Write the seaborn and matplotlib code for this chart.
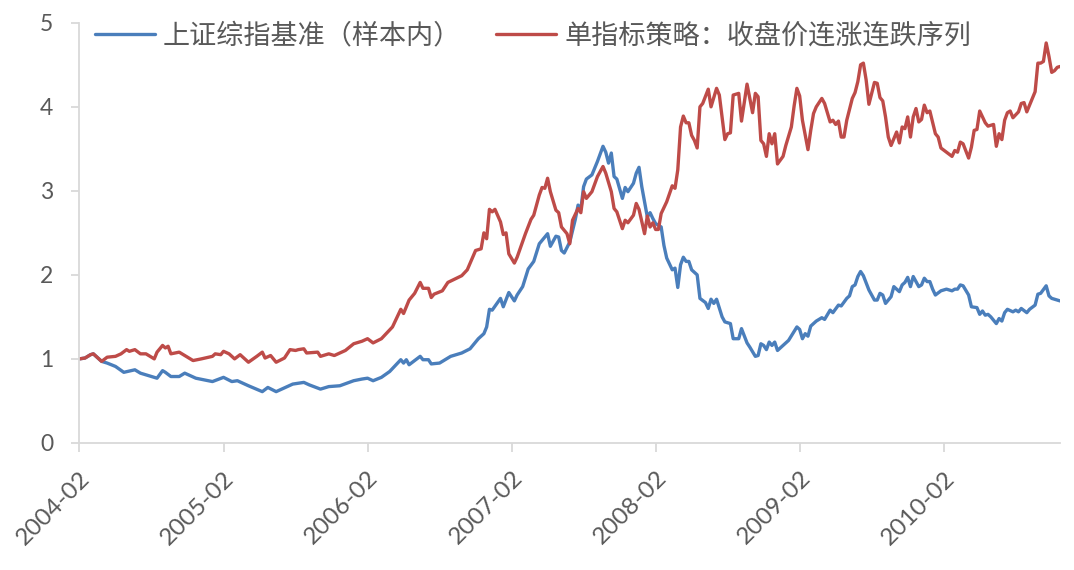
import matplotlib
matplotlib.use("Agg")
import matplotlib.pyplot as plt
import pandas as pd
import seaborn as sns

START_DATE = "2004-02-13"

BENCH_LABEL = "上证综指基准（样本内）"
STRAT_LABEL = "单指标策略：收盘价连涨连跌序列"

# week number since the first sample week, value (net value, start = 1)
bench_week = [
    0, 2, 4, 5, 6, 8, 10, 13, 16, 20, 22, 28, 30, 31, 33, 36, 38, 42, 48, 52,
    55, 57, 61, 66, 68, 71, 77, 81, 83, 87, 90, 94, 99, 102, 104, 106, 109, 112,
    116, 117, 118, 119, 123, 124, 126, 127, 130, 134, 138, 141, 144, 146, 147,
    148, 149, 152, 153, 155, 157, 158, 160, 162, 164, 166, 167, 169, 170, 172,
    173, 174, 175, 177, 179, 180, 181, 182, 183, 185, 187, 189, 190, 191, 192,
    193, 194, 196, 197, 198, 200, 201, 202, 203, 205, 206, 207, 208, 210, 211,
    212, 214, 215, 216, 217, 218, 219, 220, 221, 223, 224, 226, 227, 228, 229,
    230, 232, 233, 235, 236, 238, 239, 241, 242, 244, 245, 246, 247, 248, 249,
    250, 251, 252, 254, 256, 259, 260, 261, 262, 263, 264, 266, 268, 269, 271,
    272, 274, 275, 277, 278, 279, 280, 281, 282, 283, 285, 286, 287, 288, 289,
    290, 291, 293, 294, 296, 297, 298, 299, 300, 301, 302, 303, 304, 305, 306,
    307, 308, 309, 311, 313, 315, 316, 317, 318, 319, 321, 322, 324, 325, 326,
    327, 328, 329, 331, 332, 333, 334, 335, 337, 338, 339, 340, 342, 343, 345,
    346, 347, 349, 350, 351, 354,
]
bench_value = [
    1.00, 1.01, 1.05, 1.06, 1.03, 0.97, 0.95, 0.91, 0.84, 0.87, 0.83, 0.77, 0.86,
    0.84, 0.79, 0.79, 0.83, 0.77, 0.73, 0.78, 0.73, 0.74, 0.68, 0.61, 0.66, 0.61,
    0.70, 0.72, 0.69, 0.64, 0.67, 0.68, 0.74, 0.76, 0.77, 0.74, 0.78, 0.85, 0.99,
    0.95, 0.99, 0.93, 1.03, 0.99, 0.99, 0.94, 0.95, 1.03, 1.07, 1.12, 1.24, 1.30,
    1.38, 1.59, 1.58, 1.72, 1.62, 1.79, 1.69, 1.76, 1.86, 2.07, 2.16, 2.37, 2.41,
    2.49, 2.34, 2.46, 2.45, 2.29, 2.26, 2.39, 2.66, 2.83, 2.78, 3.05, 3.14, 3.19,
    3.35, 3.53, 3.46, 3.33, 3.45, 3.17, 3.14, 2.91, 3.04, 2.99, 3.09, 3.21, 3.28,
    3.05, 2.69, 2.74, 2.67, 2.61, 2.57, 2.35, 2.20, 2.06, 2.08, 1.85, 2.12, 2.21,
    2.16, 2.16, 2.06, 2.00, 1.72, 1.67, 1.60, 1.71, 1.66, 1.71, 1.50, 1.44, 1.42,
    1.24, 1.24, 1.36, 1.19, 1.14, 1.03, 1.04, 1.18, 1.16, 1.11, 1.20, 1.16, 1.20,
    1.10, 1.16, 1.22, 1.38, 1.35, 1.24, 1.30, 1.27, 1.39, 1.45, 1.49, 1.47, 1.58,
    1.55, 1.64, 1.63, 1.72, 1.75, 1.86, 1.88, 1.98, 2.04, 1.99, 1.82, 1.76, 1.70,
    1.70, 1.78, 1.76, 1.66, 1.74, 1.86, 1.80, 1.88, 1.91, 1.97, 1.86, 1.98, 1.92,
    1.86, 1.88, 1.96, 1.92, 1.92, 1.83, 1.76, 1.81, 1.83, 1.81, 1.83, 1.83, 1.88,
    1.87, 1.76, 1.62, 1.61, 1.53, 1.57, 1.52, 1.53, 1.50, 1.42, 1.48, 1.45, 1.55,
    1.59, 1.56, 1.58, 1.56, 1.60, 1.55, 1.59, 1.64, 1.77, 1.78, 1.87, 1.75, 1.72,
    1.69,
]

strat_week = [
    0, 2, 4, 5, 6, 8, 10, 13, 15, 17, 18, 20, 22, 24, 27, 28, 30, 31, 32, 33,
    36, 38, 41, 44, 48, 49, 51, 52, 54, 56, 58, 61, 64, 66, 67, 69, 71, 74, 76,
    78, 79, 81, 82, 86, 87, 90, 92, 96, 99, 102, 104, 106, 109, 113, 116, 117,
    119, 121, 123, 124, 126, 127, 128, 131, 133, 138, 140, 143, 145, 146, 147,
    148, 149, 150, 152, 153, 154, 155, 157, 158, 161, 163, 164, 166, 167, 168,
    169, 170, 172, 173, 174, 176, 177, 178, 180, 181, 182, 183, 185, 187, 189,
    190, 192, 193, 194, 196, 197, 198, 200, 201, 202, 204, 205, 206, 207, 208,
    209, 210, 212, 214, 215, 216, 217, 218, 219, 220, 221, 222, 223, 224, 225,
    227, 228, 230, 231, 233, 234, 235, 236, 238, 239, 241, 243, 244, 245, 246,
    247, 248, 249, 250, 251, 252, 254, 255, 257, 258, 259, 260, 261, 263, 264,
    265, 266, 268, 269, 271, 272, 273, 274, 275, 276, 277, 279, 280, 281, 282,
    283, 284, 285, 286, 287, 288, 289, 290, 291, 292, 293, 295, 296, 297, 298,
    299, 300, 301, 302, 303, 304, 305, 306, 307, 309, 310, 311, 313, 315, 316,
    317, 318, 319, 321, 322, 323, 324, 325, 327, 328, 330, 331, 332, 333, 334,
    335, 336, 337, 339, 340, 341, 342, 343, 345, 346, 347, 348, 349, 350, 351,
    352, 353, 354,
]
strat_value = [
    1.00, 1.01, 1.05, 1.06, 1.03, 0.97, 1.02, 1.03, 1.06, 1.11, 1.09, 1.11, 1.06,
    1.06, 1.00, 1.08, 1.16, 1.13, 1.15, 1.06, 1.08, 1.04, 0.98, 1.00, 1.03, 1.06,
    1.05, 1.09, 1.06, 1.00, 1.05, 0.96, 1.03, 1.08, 1.01, 1.04, 0.96, 1.01, 1.11,
    1.10, 1.11, 1.12, 1.07, 1.08, 1.03, 1.06, 1.04, 1.10, 1.18, 1.21, 1.24, 1.19,
    1.24, 1.38, 1.59, 1.54, 1.70, 1.78, 1.91, 1.84, 1.84, 1.73, 1.77, 1.81, 1.91,
    1.99, 2.06, 2.29, 2.31, 2.50, 2.43, 2.78, 2.75, 2.78, 2.63, 2.48, 2.50, 2.25,
    2.14, 2.21, 2.49, 2.66, 2.71, 2.95, 3.04, 3.03, 3.15, 2.99, 2.77, 2.74, 2.57,
    2.49, 2.37, 2.65, 2.79, 2.74, 2.99, 2.91, 2.99, 3.17, 3.29, 3.21, 2.99, 2.79,
    2.75, 2.55, 2.65, 2.62, 2.71, 2.85, 2.78, 2.49, 2.70, 2.57, 2.62, 2.54, 2.54,
    2.73, 2.87, 3.06, 3.03, 3.25, 3.76, 3.89, 3.81, 3.81, 3.66, 3.60, 3.51, 4.00,
    4.04, 4.21, 4.00, 4.22, 4.14, 3.61, 3.68, 3.69, 4.14, 4.16, 3.83, 4.27, 3.93,
    4.16, 4.12, 3.60, 3.56, 3.41, 3.68, 3.56, 3.68, 3.32, 3.41, 3.54, 3.76, 4.01,
    4.22, 4.13, 3.84, 3.49, 3.72, 3.92, 4.00, 4.10, 4.04, 3.82, 3.84, 3.79, 3.83,
    3.64, 3.64, 3.84, 4.10, 4.17, 4.30, 4.50, 4.52, 4.32, 4.03, 4.16, 4.29, 4.28,
    4.11, 4.07, 3.88, 3.64, 3.54, 3.70, 3.57, 3.76, 3.74, 3.88, 3.64, 3.88, 3.98,
    3.82, 3.85, 4.02, 3.93, 3.95, 3.68, 3.64, 3.51, 3.46, 3.41, 3.48, 3.46, 3.58,
    3.56, 3.39, 3.52, 3.72, 3.73, 3.95, 3.81, 3.77, 3.79, 3.53, 3.68, 3.61, 3.84,
    3.93, 3.95, 3.87, 3.94, 4.04, 4.05, 3.94, 4.02, 4.18, 4.52, 4.52, 4.54, 4.76,
    4.60, 4.41, 4.43, 4.47, 4.48,
]

tick_week = [0, 52, 104, 156, 208, 260, 312]
tick_labels = ["2004-02", "2005-02", "2006-02", "2007-02", "2008-02", "2009-02", "2010-02"]

BLUE = "#4A7EBB"
RED = "#BE4B48"
AXIS_GREY = "#D9D9D9"
TEXT_GREY = "#595959"


def week_to_date(weeks):
    return pd.Timestamp(START_DATE) + pd.to_timedelta([w * 7 for w in weeks], unit="D")


def build_frame():
    bench = pd.DataFrame({"date": week_to_date(bench_week), "value": bench_value, "series": BENCH_LABEL})
    strat = pd.DataFrame({"date": week_to_date(strat_week), "value": strat_value, "series": STRAT_LABEL})
    return pd.concat([bench, strat], ignore_index=True)


def main():
    sns.set_style("white")
    plt.rcParams["font.family"] = ["Lato", "Noto Sans CJK SC", "DejaVu Sans"]

    df = build_frame()
    fig, ax = plt.subplots(figsize=(10.74, 5.70), dpi=100)
    fig.subplots_adjust(left=0.074, right=0.987, bottom=0.223, top=0.960)

    sns.lineplot(
        data=df, x="date", y="value", hue="series",
        hue_order=[BENCH_LABEL, STRAT_LABEL], palette=[BLUE, RED],
        estimator=None, linewidth=2.4, ax=ax,
    )

    dates = week_to_date([0, max(strat_week)])
    ax.set_xlim(dates[0], dates[1])
    ax.set_ylim(0, 5)
    ax.set_yticks(range(6))
    ax.set_xticks(week_to_date(tick_week))
    ax.set_xticklabels(tick_labels, rotation=45, ha="right", va="top", rotation_mode="anchor")
    ax.set_xlabel("")
    ax.set_ylabel("")

    for side in ["top", "right"]:
        ax.spines[side].set_visible(False)
    for side in ["left", "bottom"]:
        ax.spines[side].set_color(AXIS_GREY)
        ax.spines[side].set_linewidth(1.3)

    ax.tick_params(axis="y", length=6, width=1.3, color=AXIS_GREY, pad=13,
                   labelsize=16.5, labelcolor=TEXT_GREY, left=True)
    ax.tick_params(axis="x", length=6.5, width=1.3, color=AXIS_GREY, pad=11,
                   labelsize=17.5, labelcolor=TEXT_GREY, bottom=True)

    handles, labels = ax.get_legend_handles_labels()
    ax.legend(
        handles, labels, ncol=2, frameon=False,
        loc="center left", bbox_to_anchor=(0.016, 0.968),
        borderpad=0, borderaxespad=0, handlelength=2.2, handletextpad=0.3,
        columnspacing=1.3, labelcolor=TEXT_GREY,
        prop={"family": ["Noto Sans CJK SC", "DejaVu Sans"], "size": 19.5, "weight": "light"},
    )

    fig.savefig("out.png", dpi=100)
    plt.close(fig)


if __name__ == "__main__":
    main()
